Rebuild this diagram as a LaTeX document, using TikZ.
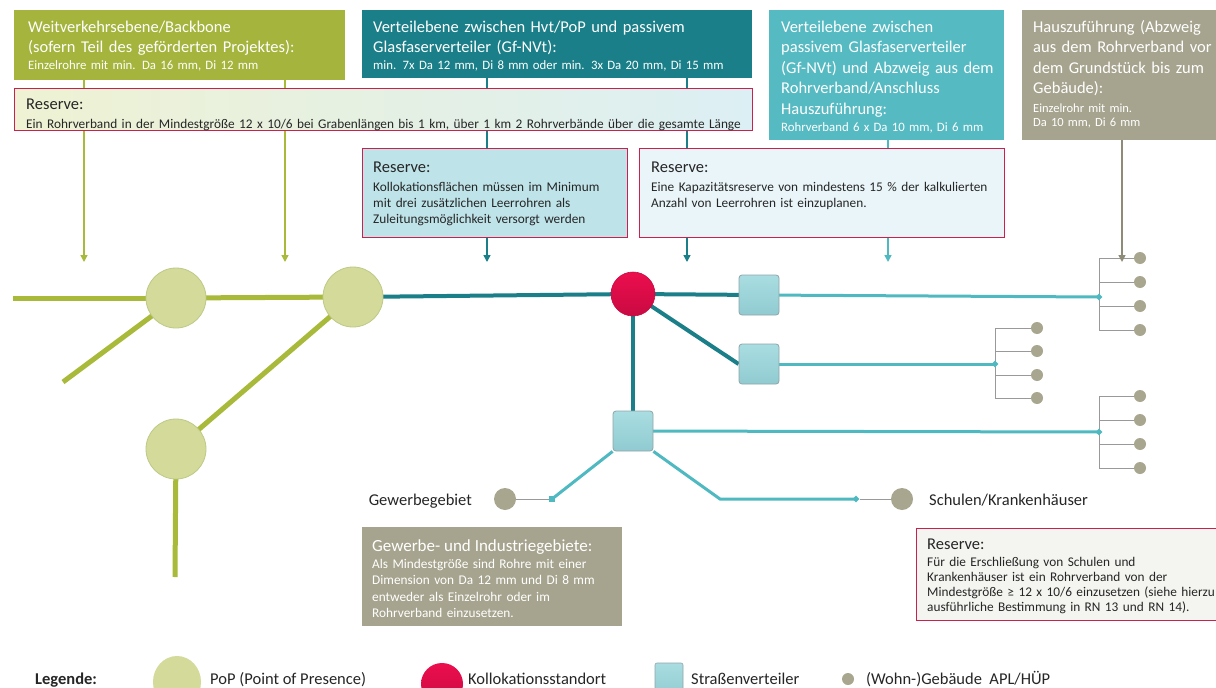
\documentclass[tikz,border=0pt]{standalone}
\usepackage{fontspec}
\setmainfont{Carlito}
\usetikzlibrary{arrows.meta,shapes.geometric}
\definecolor{olv}{HTML}{A4B43C}
\definecolor{olvline}{HTML}{A9BA3A}
\definecolor{tealD}{HTML}{1A7F88}
\definecolor{tealL}{HTML}{55BAC2}
\definecolor{lineL}{HTML}{4FB9C1}
\definecolor{gro}{HTML}{A6A48E}
\definecolor{groarrow}{HTML}{8E8C78}
\definecolor{resred}{HTML}{CB1F4E}
\definecolor{popfill}{HTML}{D3DA9A}
\definecolor{popdraw}{HTML}{BFC985}
\definecolor{kolloT}{HTML}{EC0E4E}
\definecolor{kolloB}{HTML}{C90A42}
\definecolor{sqT}{HTML}{A9DDE1}
\definecolor{sqB}{HTML}{90CBD1}
\definecolor{sqdraw}{HTML}{8FA5A8}
\definecolor{dotc}{HTML}{A8A68F}
\definecolor{treel}{HTML}{999999}
\definecolor{txt}{HTML}{262626}
\definecolor{resA}{HTML}{EFF2D3}
\definecolor{resB}{HTML}{DCEFF4}
\definecolor{res2}{HTML}{BEE3E8}
\definecolor{res3}{HTML}{EAF5F9}
\definecolor{res4}{HTML}{F4F4F0}
\pgfdeclarelayer{bg}
\pgfsetlayers{bg,main}
\begin{document}
\begin{tikzpicture}[x=1pt,y=-1pt,
  hbox/.style={anchor=north west, inner sep=0pt, draw=none, rectangle},
  rbox/.style={anchor=north west, inner sep=0pt, draw=resred, line width=1.2pt, rectangle},
  ttl/.style={anchor=base west, inner sep=0pt, align=left, text width=400pt, text=white, font=\fontsize{16.5}{20.5}\selectfont},
  sub/.style={anchor=base west, inner sep=0pt, align=left, text width=400pt, text=white, font=\fontsize{12.8}{15}\selectfont},
  rhead/.style={anchor=base west, inner sep=0pt, text=txt, font=\fontsize{16.5}{19}\selectfont},
  rbody/.style={anchor=base west, inner sep=0pt, align=left, text width=800pt, text=txt, font=\fontsize{13.3}{16}\selectfont},
  pop/.style={circle, minimum size=60pt, inner sep=0pt, fill=popfill, draw=popdraw, line width=0.8pt},
  kollo/.style={circle, minimum size=44pt, inner sep=0pt, top color=kolloT, bottom color=kolloB, draw=kolloB, line width=0.6pt},
  sq/.style={rectangle, rounded corners=3pt, minimum size=40pt, inner sep=0pt, top color=sqT, bottom color=sqB, draw=sqdraw, line width=0.8pt},
  hdot/.style={circle, minimum size=12pt, inner sep=0pt, fill=dotc},
  bdot/.style={circle, minimum size=22pt, inner sep=0pt, fill=dotc},
  dia/.style={diamond, minimum size=7pt, inner sep=0pt, fill=lineL},
  smsq/.style={rectangle, minimum size=6pt, inner sep=0pt, fill=lineL},
  olvl/.style={draw=olvline, line width=5pt},
  tdl/.style={draw=tealD, line width=4pt},
  tll/.style={draw=lineL, line width=3pt},
  tree/.style={draw=treel, line width=0.9pt},
  arr/.style={line width=1.5pt, -{Triangle[width=7pt,length=7pt]}},
  lab/.style={anchor=base west, inner sep=0pt, text=txt, font=\fontsize{16.5}{19}\selectfont},
  leg/.style={anchor=base west, inner sep=0pt, text=txt, font=\fontsize{16.5}{19}\selectfont},
]
\useasboundingbox (0,0) rectangle (1216,688);

% header boxes
\node[hbox, fill=olv, minimum width=331pt, minimum height=70pt] (b1) at (14,10) {};
\node[hbox, fill=tealD, minimum width=390pt, minimum height=68pt] (b2) at (362,10) {};
\node[hbox, fill=tealL, minimum width=235pt, minimum height=130pt] (b3) at (769,10) {};
\node[hbox, fill=gro, minimum width=200pt, minimum height=130pt] (b4) at (1022,10) {};

% vertical connectors
\coordinate (a1) at (84,262);
\coordinate (a2) at (285,262);
\coordinate (a3) at (487,262);
\coordinate (a4) at (687,262);
\coordinate (a5) at (888,262);
\coordinate (a6) at (1122,262);
\draw[arr, olvline] (b1.south -| a1) -- (a1);
\draw[arr, olvline] (b1.south -| a2) -- (a2);
\draw[arr, tealD] (b2.south -| a3) -- (a3);
\draw[arr, tealD] (b2.south -| a4) -- (a4);
\draw[arr, lineL] (b3.south -| a5) -- (a5);
\draw[arr, groarrow] (b4.south -| a6) -- (a6);

% reserve boxes
\node[rbox, left color=resA, right color=resB, minimum width=738pt, minimum height=42pt] (r1) at (14,88) {};
\node[rbox, fill=res2, minimum width=265pt, minimum height=89pt] (r2) at (362,148) {};
\node[rbox, fill=res3, minimum width=365pt, minimum height=89pt] (r3) at (639,148) {};
\node[rbox, fill=res4, minimum width=320pt, minimum height=92pt] (r4) at (916,528) {};
\node[hbox, fill=gro, minimum width=260pt, minimum height=99pt] (g1) at (362,527) {};

% header texts
\node[ttl] (t1) at (28,32) {Weitverkehrsebene/Backbone\\(sofern Teil des geförderten Projektes):};
\node[sub] (s1) at (28,69) {Einzelrohre mit min. Da 16 mm, Di 12 mm};
\node[ttl] (t2) at (373,32) {Verteilebene zwischen Hvt/PoP und passivem\\Glasfaserverteiler (Gf-NVt):};
\node[sub] (s2) at (373,69) {min. 7x Da 12 mm, Di 8 mm oder min. 3x Da 20 mm, Di 15 mm};
\node[ttl] (t3) at (781,32) {Verteilebene zwischen\\passivem Glasfaserverteiler\\(Gf-NVt) und Abzweig aus dem\\Rohrverband/Anschluss\\Hauszuführung:};
\node[sub] (s3) at (781,131) {Rohrverband 6 x Da 10 mm, Di 6 mm};
\node[ttl] (t4) at (1033,32) {Hauszuführung (Abzweig\\aus dem Rohrverband vor\\dem Grundstück bis zum\\Gebäude):};
\node[sub, font=\fontsize{12.5}{14.5}\selectfont] (s4) at (1033,112) {Einzelrohr mit min.\\Da 10 mm, Di 6 mm};

% reserve texts
\node[rhead] (rh1) at (26,109) {Reserve:};
\node[rbody] (rt1) at (26,128) {Ein Rohrverband in der Mindestgröße 12 x 10/6 bei Grabenlängen bis 1 km, über 1 km 2 Rohrverbände über die gesamte Länge};
\node[rhead] (rh2) at (373,172) {Reserve:};
\node[rbody] (rt2) at (373,191) {Kollokationsflächen müssen im Minimum\\mit drei zusätzlichen Leerrohren als\\Zuleitungsmöglichkeit versorgt werden};
\node[rhead] (rh3) at (651,172) {Reserve:};
\node[rbody] (rt3) at (651,191) {Eine Kapazitätsreserve von mindestens 15 \% der kalkulierten\\Anzahl von Leerrohren ist einzuplanen.};
\node[rhead] (rh4) at (927,549) {Reserve:};
\node[rbody, font=\fontsize{13.3}{15}\selectfont] (rt4) at (927,566) {Für die Erschließung von Schulen und\\Krankenhäuser ist ein Rohrverband von der\\Mindestgröße ≥ 12 x 10/6 einzusetzen (siehe hierzu\\ausführliche Bestimmung in RN 13 und RN 14).};
\node[rhead, text=white, font=\fontsize{17}{19}\selectfont] (gh) at (372,551) {Gewerbe- und Industriegebiete:};
\node[rbody, text=white, font=\fontsize{13.3}{16.5}\selectfont] (gt) at (372,568) {Als Mindestgröße sind Rohre mit einer\\Dimension von Da 12 mm und Di 8 mm\\entweder als Einzelrohr oder im\\Rohrverband einzusetzen.};

% network nodes
\node[pop] (p1) at (176,298) {};
\node[pop] (p2) at (353,297) {};
\node[pop] (p3) at (176,449) {};
\node[kollo] (k) at (633,294) {};
\node[sq] (q1) at (759,295) {};
\node[sq] (q2) at (759,364) {};
\node[sq] (q3) at (633,431) {};
\coordinate (l0) at (13,298);
\coordinate (l1) at (63,382);
\coordinate (l2) at (175,577);
\node[dia] (j1) at (1099,297) {};
\node[dia] (j2) at (995,364) {};
\node[dia] (j3) at (1099,432) {};
\coordinate (c1) at (720,499);
\node[dia] (j4) at (856,499) {};
\node[smsq] (m1) at (552,499) {};
\node[bdot] (sch) at (902,499) {};
\node[bdot] (gew) at (505,499) {};
\node[lab, anchor=base east] (gewl) at (472,505) {Gewerbegebiet};
\node[lab] (schl) at (929,505) {Schulen/Krankenhäuser};

\node[hdot] (d11) at (1140,258) {};
\node[hdot] (d12) at (1140,282) {};
\node[hdot] (d13) at (1140,306) {};
\node[hdot] (d14) at (1140,330) {};
\node[hdot] (d21) at (1037,328) {};
\node[hdot] (d22) at (1037,351) {};
\node[hdot] (d23) at (1037,375) {};
\node[hdot] (d24) at (1037,398) {};
\node[hdot] (d31) at (1140,396) {};
\node[hdot] (d32) at (1140,420) {};
\node[hdot] (d33) at (1140,444) {};
\node[hdot] (d34) at (1140,468) {};

\begin{pgfonlayer}{bg}
\fill[white] (0,0) rectangle (1216,688);
\draw[olvl] (l0) -- (p1.center);
\draw[olvl] (p1.center) -- (p2.center);
\draw[olvl] (p1.center) -- (l1);
\draw[olvl] (p2.center) -- (p3.center);
\draw[olvl] (p3.center) -- (l2);
\draw[tdl] (p2.center) -- (k.center);
\draw[tdl] (k.center) -- (q1.center);
\draw[tdl] (k.center) -- (q2.west);
\draw[tdl] (k.center) -- (q3.center);
\draw[tll] (q1.center) -- (j1.center);
\draw[tll] (q2.center) -- (j2.center);
\draw[tll] (q3.center) -- (j3.center);
\draw[tll] (q3.south east) -- (c1) -- (j4.center);
\draw[tll] (q3.south west) -- (m1.center);
\draw[tree] (j4) -- (sch);
\draw[tree] (m1) -- (gew);
\draw[tree] (j1 |- d11) -- (j1 |- d14);
\draw[tree] (j2 |- d21) -- (j2 |- d24);
\draw[tree] (j3 |- d31) -- (j3 |- d34);
\foreach \d in {d11,d12,d13,d14} \draw[tree] (j1 |- \d) -- (\d);
\foreach \d in {d21,d22,d23,d24} \draw[tree] (j2 |- \d) -- (\d);
\foreach \d in {d31,d32,d33,d34} \draw[tree] (j3 |- \d) -- (\d);
\end{pgfonlayer}

% legend
\node[leg, font=\bfseries\fontsize{16.5}{19}\selectfont] (lg) at (35,684) {Legende:};
\node[ellipse, minimum width=48pt, minimum height=52pt, inner sep=0pt, fill=popfill] (lp) at (177,682) {};
\node[leg] (lpt) at (210,684) {PoP (Point of Presence)};
\node[circle, minimum size=42pt, inner sep=0pt, top color=kolloT, bottom color=kolloB] (lk) at (442,684) {};
\node[leg] (lkt) at (468,684) {Kollokationsstandort};
\node[rectangle, rounded corners=2pt, minimum width=28pt, minimum height=34pt, inner sep=0pt, top color=sqT, bottom color=sqB, draw=sqdraw, line width=0.6pt] (lq) at (669,680) {};
\node[leg] (lqt) at (691,684) {Straßenverteiler};
\node[circle, minimum size=12pt, inner sep=0pt, fill=dotc] (ld) at (848,679) {};
\node[leg] (ldt) at (866,684) {(Wohn-)Gebäude\ \ APL/HÜP};
\end{tikzpicture}
\end{document}
